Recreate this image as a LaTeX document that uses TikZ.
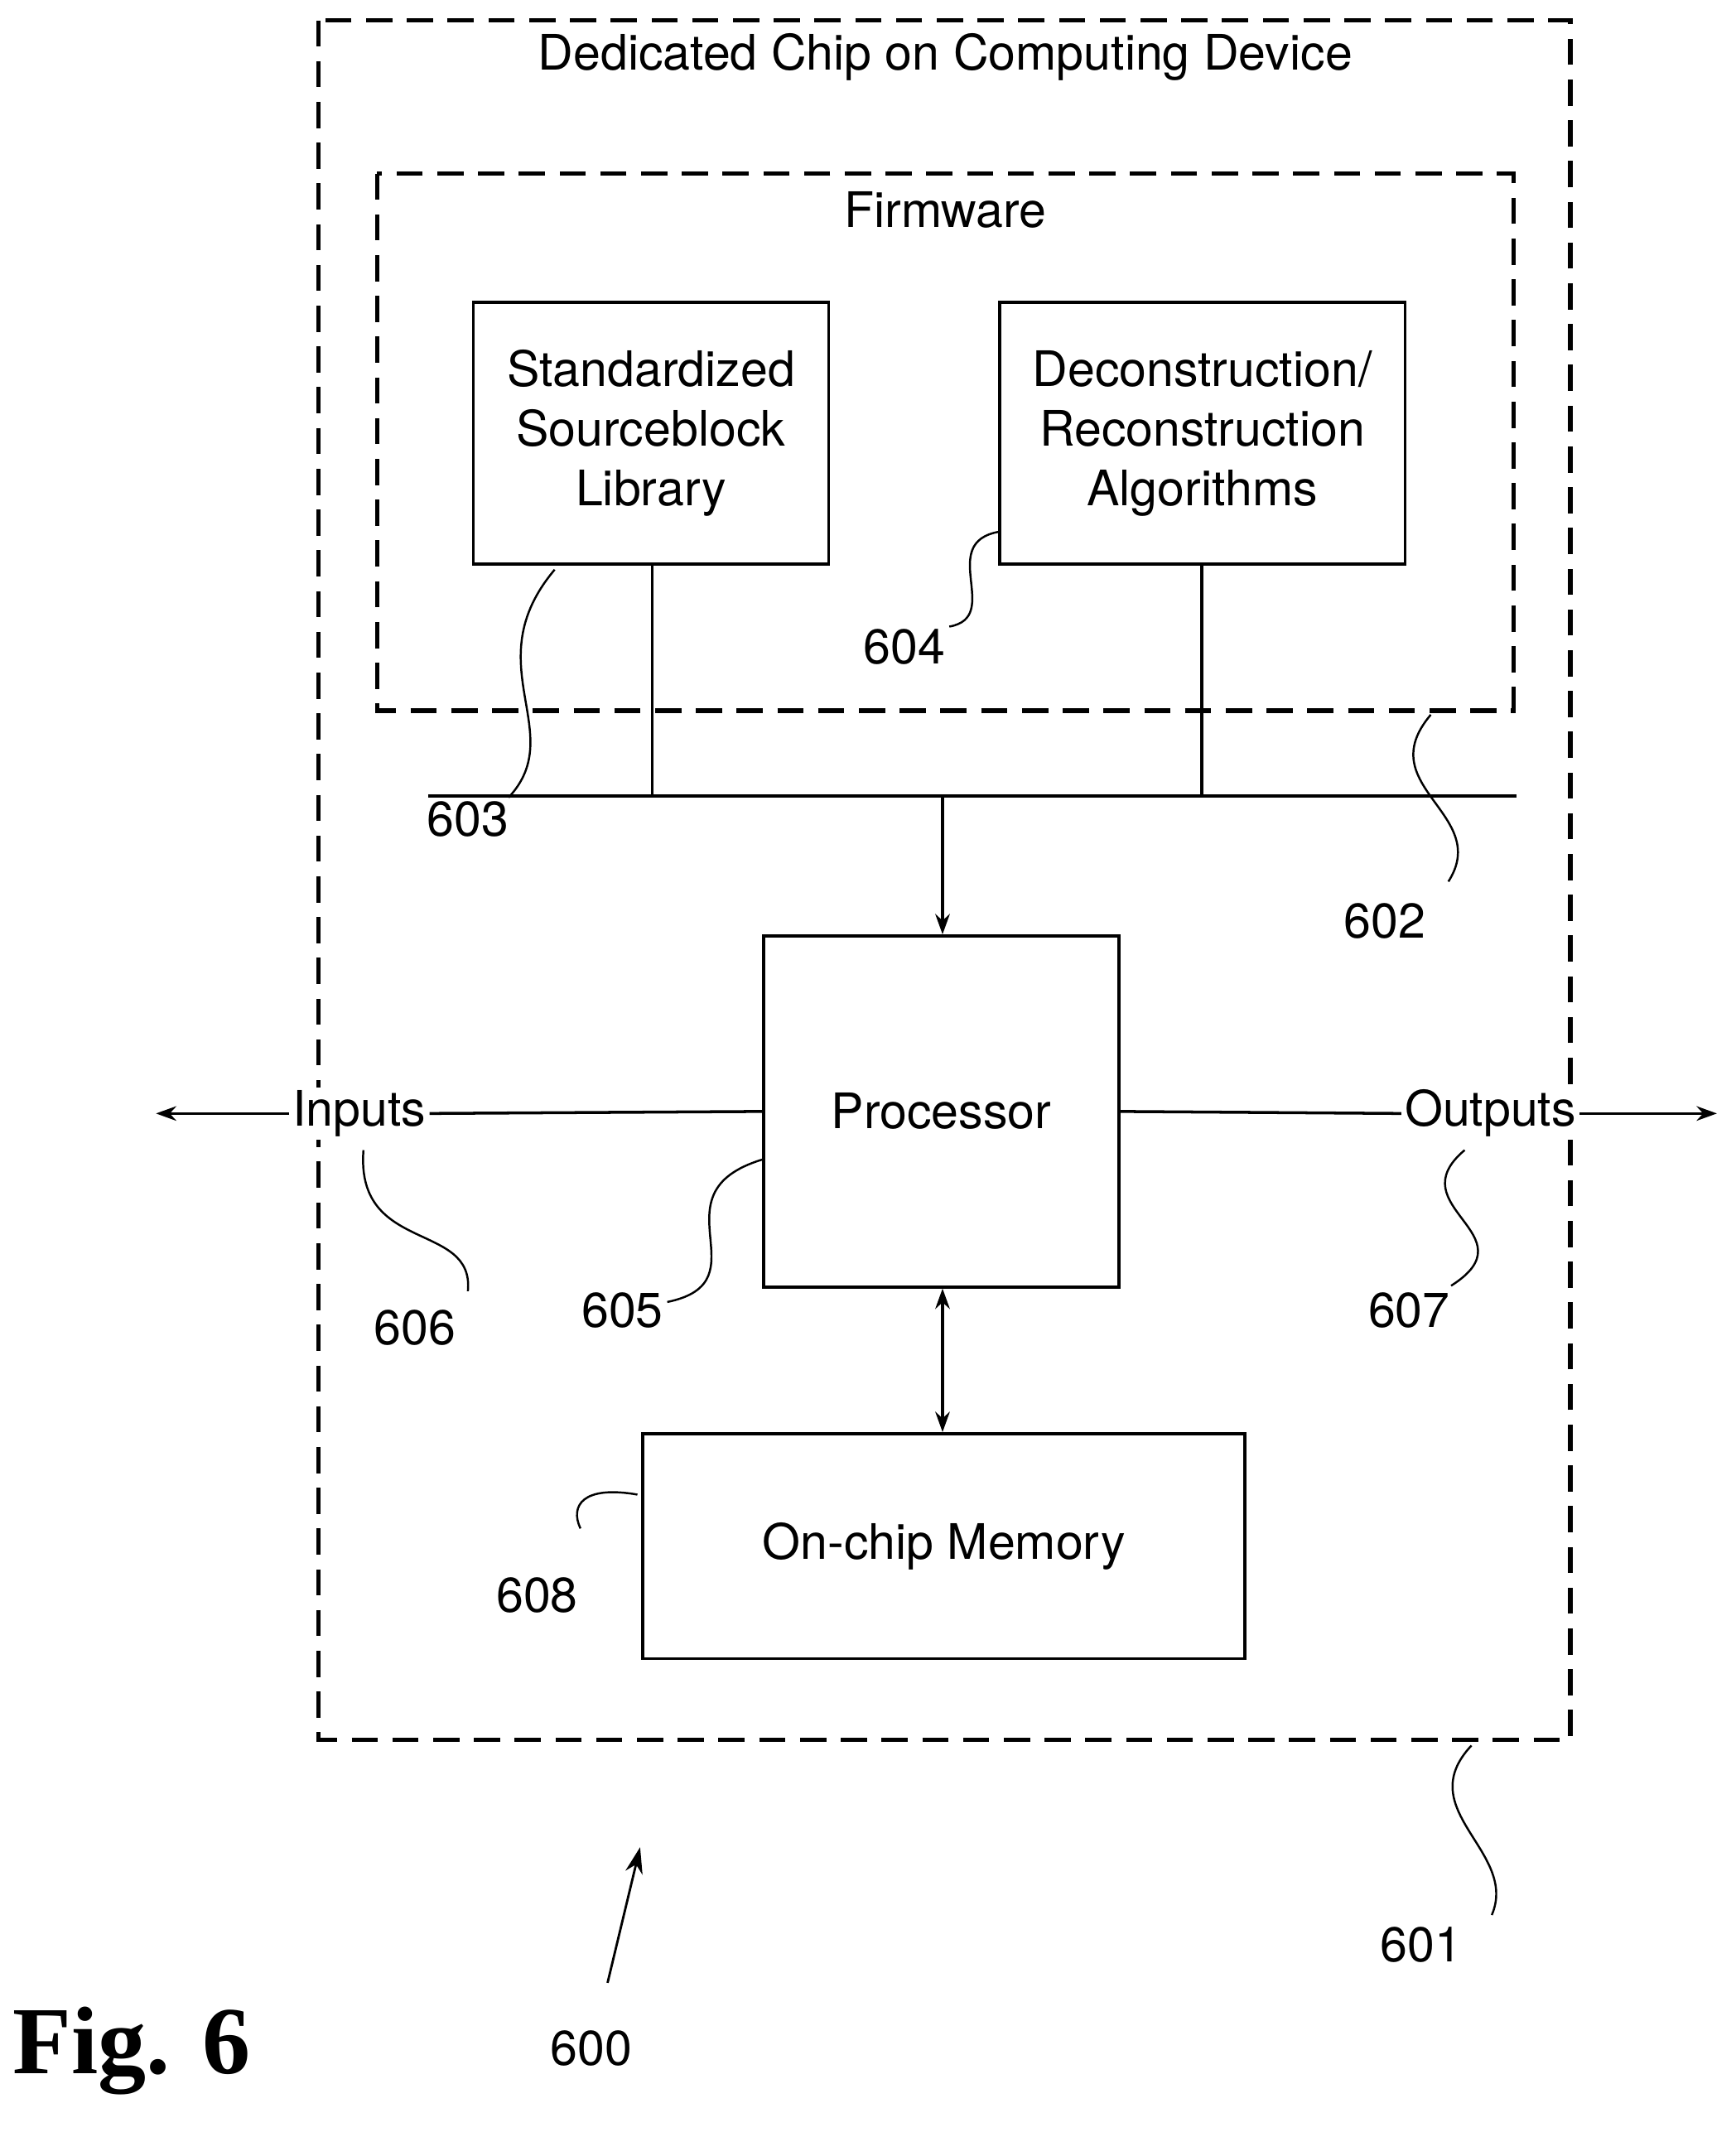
\documentclass[tikz,border=0pt]{standalone}
\usepackage{fontspec}
\setmainfont{TeX Gyre Heros}
\newfontfamily\figfont{Liberation Serif}
\usetikzlibrary{arrows.meta}
\begin{document}
\begin{tikzpicture}[x=0.016375cm,y=-0.016375cm,
  dbox/.style={draw,line width=1.5pt,dash pattern=on 9pt off 5pt},
  box/.style={draw,line width=1pt,align=center,inner sep=0},
  txt/.style={font=\fontsize{16.8}{20.5}\selectfont},
  lead/.style={line width=0.7pt},
  arr/.style={line width=1pt,-{Stealth[length=7pt,width=5pt]}}]
\useasboundingbox (0,0) rectangle (1280,1572);
\draw[dbox] (235,15) rectangle (1158,1283);
\node[txt] (t1) at (697,42) {Dedicated Chip on Computing Device};
\draw[dbox] (278,128) rectangle (1116,524);
\node[txt] (t2) at (697,155) {Firmware};
\node[box,txt,minimum width=262*0.016375cm,minimum height=193*0.016375cm] (lib) at (480,319.5) {Standardized\\Sourceblock\\Library};
\node[box,txt,minimum width=299*0.016375cm,minimum height=193*0.016375cm] (alg) at (886.5,319.5) {Deconstruction/\\Reconstruction\\Algorithms};
\coordinate (bl) at (316,587); \coordinate (br) at (1118,587);
\draw[line width=1pt] (bl) -- (br);
\coordinate (b1) at (481,587); \coordinate (b2) at (886,587); \coordinate (b3) at (695,587);
\draw[line width=1pt] (lib.south -| b1) -- (b1);
\draw[line width=1pt] (alg.south -| b2) -- (b2);
\node[box,txt,minimum width=262*0.016375cm,minimum height=259*0.016375cm] (proc) at (694,819.5) {Processor};
\node[box,txt,minimum width=444*0.016375cm,minimum height=166*0.016375cm] (mem) at (696,1140) {On-chip Memory};
\draw[arr] (b3) -- (proc.north -| b3);
\draw[line width=1pt,{Stealth[length=7pt,width=5pt]}-{Stealth[length=7pt,width=5pt]}] (proc.south -| b3) -- (mem.north -| b3);
\node[txt,fill=white,inner sep=1pt] (in) at (265,821) {Inputs};
\node[txt,fill=white,inner sep=1pt] (out) at (1099,821) {Outputs};
\coordinate (il) at (115,821); \coordinate (or) at (1266,821);
\draw[line width=1pt] (proc.west) -- (in.east);
\draw[arr] (in.west) -- (il);
\draw[line width=1pt] (proc.east) -- (out.west);
\draw[arr] (out.east) -- (or);
\node[txt] (n603) at (345,604) {603};
\node[txt] (n604) at (667,477) {604};
\node[txt] (n602) at (1021,679) {602};
\node[txt] (n605) at (459,966) {605};
\node[txt] (n606) at (306,979) {606};
\node[txt] (n607) at (1039,966) {607};
\node[txt] (n608) at (396,1176) {608};
\node[txt] (n601) at (1048,1434) {601};
\node[txt] (n600) at (436,1510) {600};
\draw[lead] (409,420) .. controls (350,490) and (420,540) .. (375,588);
\draw[lead] (737,392) .. controls (690,400) and (740,455) .. (700,462);
\draw[lead] (1055,527) .. controls (1010,580) and (1100,600) .. (1068,650);
\draw[lead] (562,855) .. controls (480,880) and (565,945) .. (492,960);
\draw[lead] (268,848) .. controls (262,925) and (350,900) .. (345,952);
\draw[lead] (1080,848) .. controls (1030,890) and (1130,910) .. (1070,948);
\draw[lead] (470,1102) .. controls (430,1095) and (420,1110) .. (428,1127);
\draw[lead] (1085,1287) .. controls (1040,1335) and (1120,1365) .. (1100,1412);
\coordinate (a600) at (472,1362);
\draw[line width=0.8pt,-{Stealth[length=9pt,width=6pt]}] (448,1462) -- (a600);
\node[font=\figfont\bfseries\fontsize{33}{36}\selectfont] (fig) at (97,1512) {Fig. 6};
\end{tikzpicture}
\end{document}
